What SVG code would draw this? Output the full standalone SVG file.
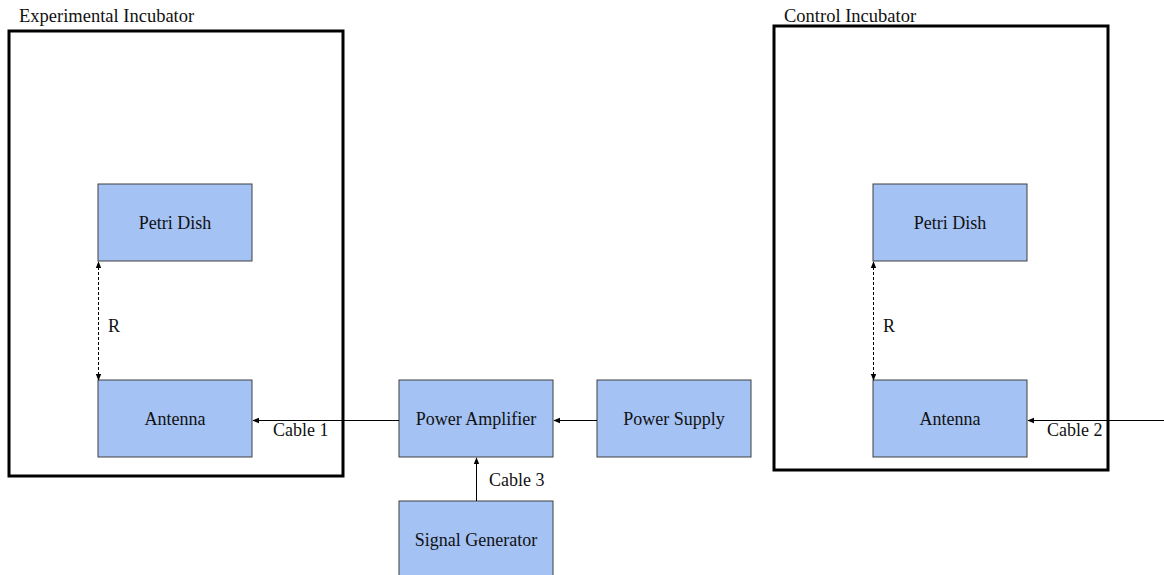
<svg xmlns="http://www.w3.org/2000/svg" width="1164" height="575" viewBox="0 0 1164 575">
  <style>
    text { font-family: "Liberation Serif", "Times New Roman", serif; font-size: 18px; fill: #111; }
    .title { font-size: 18.5px; }
    .box { fill: #a4c2f4; stroke: #404040; stroke-width: 1; }
    .frame { fill: none; stroke: #000; stroke-width: 3; }
    .wire { stroke: #000; stroke-width: 1; fill: none; }
    .dash { stroke: #000; stroke-width: 1; fill: none; stroke-dasharray: 3 2; }
    .mid { text-anchor: middle; dominant-baseline: central; }
  </style>
  <defs>
    <marker id="arrow" viewBox="0 0 10 10" refX="9" refY="5" markerWidth="7" markerHeight="7" orient="auto-start-reverse" markerUnits="userSpaceOnUse">
      <path d="M0,1 L10,5 L0,9 z" fill="#000"/>
    </marker>
  </defs>

  <!-- incubator frames -->
  <g id="experimental-incubator">
    <rect class="frame" x="9" y="31" width="334" height="445"/>
    <text class="title" x="19" y="22">Experimental Incubator</text>
  </g>
  <g id="control-incubator">
    <rect class="frame" x="774" y="26" width="334" height="444"/>
    <text class="title" x="784" y="22">Control Incubator</text>
  </g>

  <!-- components -->
  <g id="petri-dish-exp">
    <rect class="box" x="98" y="184" width="154" height="77"/>
    <text class="mid" x="175" y="223">Petri Dish</text>
  </g>
  <g id="antenna-exp">
    <rect class="box" x="98" y="380" width="154" height="77"/>
    <text class="mid" x="175" y="419">Antenna</text>
  </g>
  <g id="power-amplifier">
    <rect class="box" x="399" y="380" width="154" height="77"/>
    <text class="mid" x="476" y="419">Power Amplifier</text>
  </g>
  <g id="power-supply">
    <rect class="box" x="597" y="380" width="154" height="77"/>
    <text class="mid" x="674" y="419">Power Supply</text>
  </g>
  <g id="signal-generator">
    <rect class="box" x="399" y="501" width="154" height="80"/>
    <text class="mid" x="476" y="540">Signal Generator</text>
  </g>
  <g id="petri-dish-ctrl">
    <rect class="box" x="873" y="184" width="154" height="77"/>
    <text class="mid" x="950" y="223">Petri Dish</text>
  </g>
  <g id="antenna-ctrl">
    <rect class="box" x="873" y="380" width="154" height="77"/>
    <text class="mid" x="950" y="419">Antenna</text>
  </g>

  <!-- connectors -->
  <g id="connectors">
    <line class="dash" x1="98.5" y1="262" x2="98.5" y2="380" marker-start="url(#arrow)" marker-end="url(#arrow)"/>
    <text x="108" y="332">R</text>
    <line class="dash" x1="873.5" y1="262" x2="873.5" y2="380" marker-start="url(#arrow)" marker-end="url(#arrow)"/>
    <text x="883" y="332">R</text>

    <line class="wire" x1="399" y1="420.5" x2="253" y2="420.5" marker-end="url(#arrow)"/>
    <text x="273" y="436">Cable 1</text>

    <line class="wire" x1="597" y1="420.5" x2="554" y2="420.5" marker-end="url(#arrow)"/>

    <line class="wire" x1="476.5" y1="501" x2="476.5" y2="458" marker-end="url(#arrow)"/>
    <text x="489" y="486">Cable 3</text>

    <line class="wire" x1="1164" y1="420.5" x2="1028" y2="420.5" marker-end="url(#arrow)"/>
    <text x="1047" y="436">Cable 2</text>
  </g>
</svg>
